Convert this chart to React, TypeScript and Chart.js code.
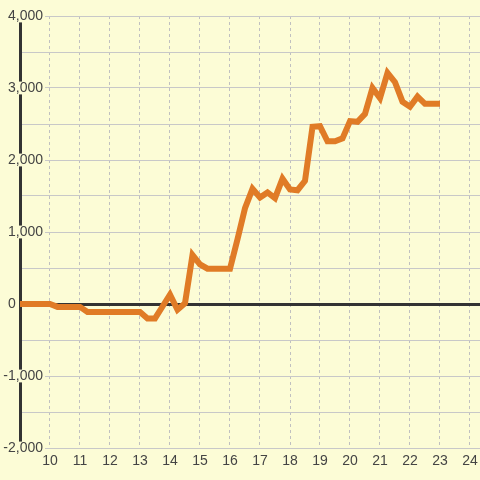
import { useEffect, useRef } from 'react';
import { Chart, registerables } from 'chart.js';

Chart.register(...registerables);

const BG = '#fcfcd6';
const LINE = '#e07b26';
const DARK = '#333333';
const GRID = '#c8c8c8';
const TEXT = '#444444';
const FONT = { family: 'Liberation Sans, Arial, sans-serif', size: 14 };

const hours = [
  9, 9.25, 9.5, 9.75, 10, 10.25, 10.5, 10.75, 11, 11.25, 11.5, 11.75,
  12, 12.25, 12.5, 12.75, 13, 13.25, 13.5, 13.75, 14, 14.25, 14.5, 14.75,
  15, 15.25, 15.5, 15.75, 16, 16.25, 16.5, 16.75, 17, 17.25, 17.5, 17.75,
  18, 18.25, 18.5, 18.75, 19, 19.25, 19.5, 19.75, 20, 20.25, 20.5, 20.75,
  21, 21.25, 21.5, 21.75, 22, 22.25, 22.5, 22.75, 23,
];

const values = [
  0, 0, 0, 0, 0, -40, -40, -40, -40, -110, -110, -110,
  -110, -110, -110, -110, -110, -200, -200, -35, 130, -80, 10, 680,
  550, 490, 490, 490, 490, 900, 1330, 1600, 1480, 1550, 1470, 1740,
  1590, 1580, 1710, 2460, 2470, 2260, 2260, 2300, 2540, 2530, 2640, 3000,
  2860, 3210, 3080, 2810, 2740, 2880, 2780, 2780, 2780,
];

const xTickValues = [10, 11, 12, 13, 14, 15, 16, 17, 18, 19, 20, 21, 22, 23, 24];
const xTickLabels = ['10', '11', '12', '13', '14', '15', '16', '17', '18', '19', '20', '21', '22', '23', '24'];

const yTickValues = [-2000, -1000, 0, 1000, 2000, 3000, 4000];
const yTickLabels = ['-2,000', '-1,000', '0', '1,000', '2,000', '3,000', '4,000'];

export default function App() {
  const ref = useRef<HTMLCanvasElement | null>(null);

  useEffect(() => {
    if (!ref.current) return;
    const chart = new Chart(ref.current, {
      type: 'line',
      data: {
        datasets: [
          {
            data: hours.map((h, i) => ({ x: h, y: values[i] })),
            borderColor: LINE,
            borderWidth: 6,
            borderJoinStyle: 'miter',
            borderCapStyle: 'butt',
            pointRadius: 0,
            tension: 0,
            fill: false,
          },
        ],
      },
      options: {
        responsive: false,
        animation: false,
        layout: { padding: { top: 16, right: 0, bottom: 0, left: 0 } },
        plugins: { legend: { display: false }, tooltip: { enabled: false } },
        scales: {
          x: {
            type: 'linear',
            min: 9,
            max: 9 + 460 / 30,
            afterFit: (s: any) => {
              s.height = 32;
              s.paddingLeft = 0;
              s.paddingRight = 0;
            },
            border: { display: false, dash: [3, 3] },
            grid: {
              drawTicks: false,
              color: (c: any) => (c.tick && xTickValues.includes(c.tick.value) ? '#c0c0c0' : 'rgba(0,0,0,0)'),
              lineWidth: 1,
            },
            ticks: {
              stepSize: 1,
              includeBounds: false,
              autoSkip: false,
              maxRotation: 0,
              padding: 5,
              color: TEXT,
              font: FONT,
              callback: (v: any) => {
                const i = xTickValues.indexOf(Number(v));
                return i < 0 ? '' : xTickLabels[i];
              },
            },
          },
          y: {
            type: 'linear',
            min: -2000,
            max: 4000,
            afterFit: (s: any) => {
              s.width = 20;
              s.paddingTop = 0;
              s.paddingBottom = 0;
              s._computeLabelArea = () => undefined;
            },
            border: { display: true, color: DARK, width: 3 },
            grid: {
              drawTicks: false,
              color: (c: any) => (c.tick && c.tick.value === 0 ? DARK : GRID),
              lineWidth: (c: any) => (c.tick && c.tick.value === 0 ? 3 : 1),
            },
            ticks: {
              stepSize: 500,
              autoSkip: false,
              padding: -23,
              color: TEXT,
              font: FONT,
              showLabelBackdrop: (c: any) =>
                !!c.tick && c.tick.value !== 0 && yTickValues.includes(c.tick.value),
              backdropColor: BG,
              backdropPadding: { top: -2, bottom: -2, left: 2, right: 2 },
              callback: (v: any) => {
                const i = yTickValues.indexOf(Number(v));
                if (i < 0) return '';
                return Number(v) === 0 ? yTickLabels[i] + '       ' : yTickLabels[i];
              },
            },
          },
        },
      },
    });
    return () => chart.destroy();
  }, []);

  return (
    <div style={{ position: 'fixed', left: 0, top: 0, width: 480, height: 480, background: BG }}>
      <canvas ref={ref} width={480} height={480} style={{ display: 'block' }} />
    </div>
  );
}
